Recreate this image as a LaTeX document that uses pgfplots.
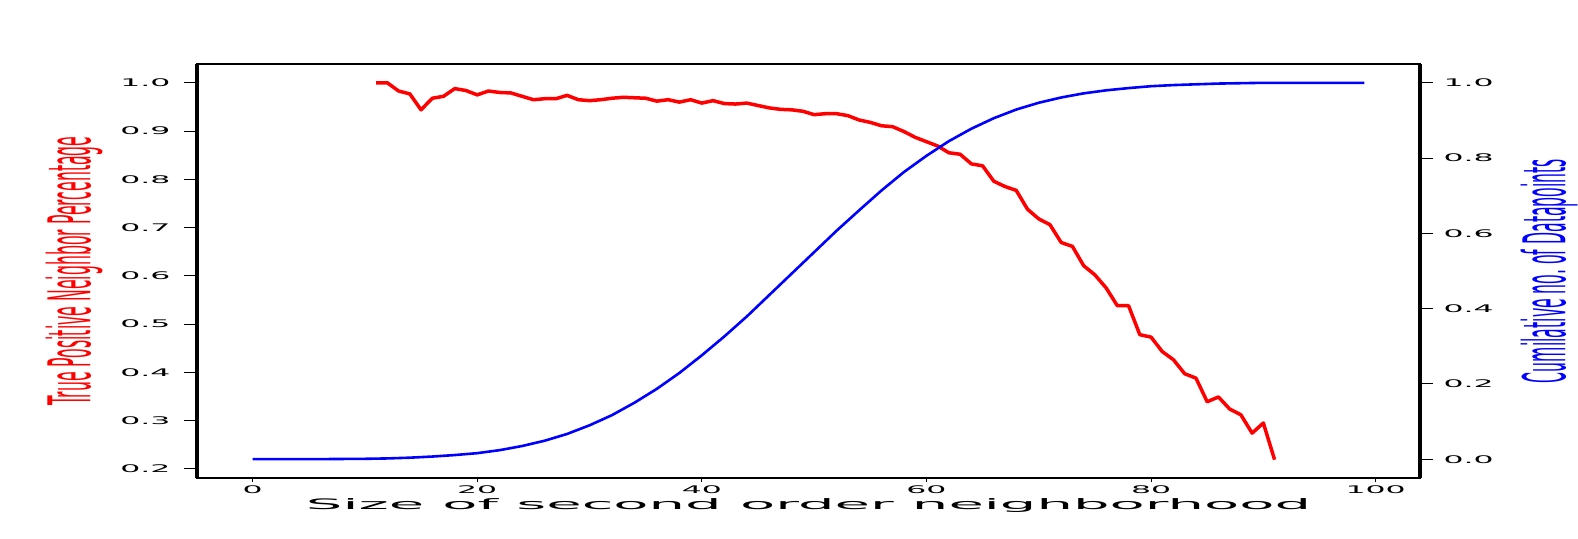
\documentclass[border=0pt]{standalone}
\usepackage{fontspec}
\usepackage{graphicx}
\usepackage{pgfplots}
\pgfplotsset{compat=1.18}
\newfontfamily\tickfont[FakeStretch=3.0]{DejaVu Sans}
\newfontfamily\labfont[FakeStretch=4.0]{DejaVu Sans}
\newfontfamily\yfont{DejaVu Sans}

\pgfplotsset{
  common/.style={
    scale only axis, width=1223bp, height=414bp,
    xmin=-4.95, xmax=103.95,
    clip=false,
    tick align=outside,
    major tick length=13bp,
    tick style={black, line width=1bp},
    ticklabel style={font=\tickfont\fontsize{10.5bp}{12bp}\selectfont},
    /pgf/number format/assume math mode=true,
    every axis y label/.style={rotate=90, anchor=north,
      font=\yfont\fontsize{15.7bp}{18bp}\selectfont},
  },
}

\begin{document}
\begin{tikzpicture}
\begin{axis}[
    common, name=ax,
    ymin=0.181, ymax=1.039,
    ytick={0.2,0.3,...,1.0},
    xtick=\empty,
    ytick pos=left,
    yticklabel style={/pgf/number format/.cd, fixed, fixed zerofill, precision=1,
      /tikz/.cd, xshift=-10bp},
    axis line style={line width=1.5bp},
    ylabel={\scalebox{1}[3.75]{True Positive Neighbor Percentage}},
    ylabel style={at={(axis description cs:-0.1267,0.5)}, color=red},
  ]
  % true positive share against neighbourhood size
  \addplot[red, line width=3.5bp, line join=round] coordinates {
    (11,1.000) (12,1.000) (13,0.983) (14,0.977) (15,0.944) (16,0.968)
    (17,0.972) (18,0.988) (19,0.984) (20,0.975) (21,0.983) (22,0.980)
    (23,0.979) (24,0.972) (25,0.965) (26,0.967) (27,0.967) (28,0.974)
    (29,0.965) (30,0.963) (31,0.965) (32,0.968) (33,0.970) (34,0.969)
    (35,0.968) (36,0.962) (37,0.965) (38,0.960) (39,0.965) (40,0.958)
    (41,0.963) (42,0.957) (43,0.956) (44,0.958) (45,0.953) (46,0.948)
    (47,0.945) (48,0.944) (49,0.941) (50,0.934) (51,0.936) (52,0.936)
    (53,0.932) (54,0.923) (55,0.918) (56,0.911) (57,0.909) (58,0.899)
    (59,0.887) (60,0.878) (61,0.869) (62,0.855) (63,0.852) (64,0.832)
    (65,0.828) (66,0.796) (67,0.785) (68,0.777) (69,0.738) (70,0.718)
    (71,0.706) (72,0.669) (73,0.661) (74,0.621) (75,0.602) (76,0.575)
    (77,0.538) (78,0.538) (79,0.478) (80,0.473) (81,0.443) (82,0.426)
    (83,0.397) (84,0.388) (85,0.339) (86,0.349) (87,0.324) (88,0.312)
    (89,0.274) (90,0.295) (91,0.219)
  };
  % heavier side spines
  \draw[line width=3.5bp] (rel axis cs:0,0) -- (rel axis cs:0,1);
  \draw[line width=3.5bp] (rel axis cs:1,0) -- (rel axis cs:1,1);
\end{axis}

% x axis ticks and title, with short ticks
\begin{axis}[
    common,
    major tick length=4bp,
    ymin=0, ymax=1,
    axis x line*=bottom, axis y line=none,
    xtick={0,20,...,100},
    axis line style={draw=none},
    xlabel={Size of second order neighborhood},
    every axis x label/.style={at={(axis description cs:0.5,0)}, anchor=base,
      yshift=-31bp, font=\labfont\fontsize{14.4bp}{16bp}\selectfont},
  ]
\end{axis}

\begin{axis}[
    common,
    ymin=-0.05, ymax=1.05,
    ytick={0,0.2,...,1.0},
    axis y line*=right, axis x line=none,
    yticklabel style={/pgf/number format/.cd, fixed, fixed zerofill, precision=1,
      /tikz/.cd, xshift=7bp},
    ylabel={\scalebox{1}[3.75]{Cumilative no.\ of Datapoints}},
    ylabel style={at={(axis description cs:1.0793,0.5)}, color=blue},
  ]
  % cumulative share of datapoints
  \addplot[blue, line width=2.6bp, line join=round] coordinates {
    (0,0.000) (5,0.000) (10,0.001) (12,0.002) (14,0.004) (16,0.007)
    (18,0.011) (20,0.016) (22,0.024) (24,0.035) (26,0.049) (28,0.067)
    (30,0.090) (32,0.117) (34,0.150) (36,0.187) (38,0.229) (40,0.276)
    (42,0.326) (44,0.379) (46,0.436) (48,0.493) (50,0.550) (52,0.607)
    (54,0.661) (56,0.714) (58,0.763) (60,0.806) (62,0.845) (64,0.878)
    (66,0.906) (68,0.929) (70,0.947) (72,0.961) (74,0.972) (76,0.980)
    (78,0.986) (80,0.991) (82,0.994) (84,0.996) (86,0.998) (88,0.999)
    (90,1.000) (94,1.000) (99,1.000)
  };
\end{axis}
\pgfresetboundingbox
\path ([xshift=-197bp,yshift=-60bp]ax.south west) rectangle ([xshift=158bp,yshift=64bp]ax.north east);
\end{tikzpicture}
\end{document}
